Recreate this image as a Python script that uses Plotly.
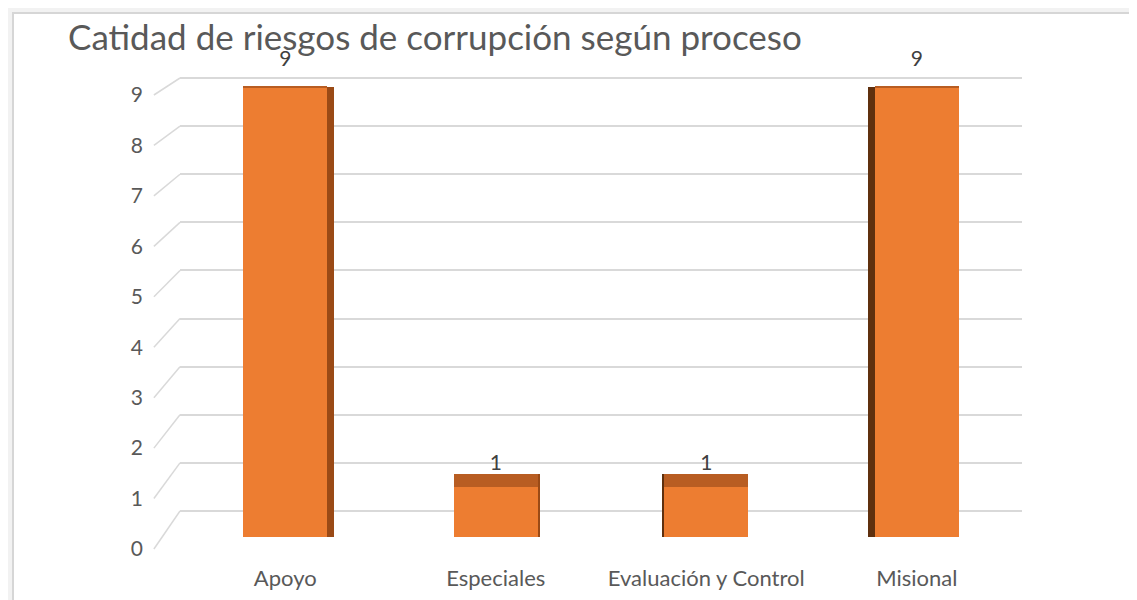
import plotly.graph_objects as go

categories = ['Apoyo', 'Especiales', 'Evaluación y Control', 'Misional']
counts = [9, 1, 1, 9]
y_ticks = list(range(0, 10))

FRONT = '#ED7D31'
TOP = '#B85D22'
SIDE_R = '#9A4A16'
SIDE_L = '#5F300E'
GRID = '#D9D9D9'
TEXT = '#595959'
FONT = 'Lato'

W, H = 1137, 600
# plot area in pixels
PL, PR = 172, 1014
PT, PB = 40, 555
NUDGE = -8  # measured shift between asked and drawn positions


def axis_range(zero_px, nine_px):
    zero_px += NUDGE
    nine_px += NUDGE
    unit = (zero_px - nine_px) / 9.0
    return [-(PB - zero_px) / unit, (zero_px - PT) / unit]


bar_range = axis_range(537, 88)    # front faces of the bars
grid_range = axis_range(511, 78)   # back wall grid
label_range = axis_range(549, 95)  # tick labels / data labels


def frac(v, r):
    return (v - r[0]) / (r[1] - r[0])


pos = list(range(len(categories)))
mid = (len(categories) - 1) / 2.0
bar_w = 0.40
# fake perspective: top face shrinks as the bar gets taller, side shows on outer bars
top_depth = [0.3 - 0.03 * v for v in counts]
side_w = [0.03 * abs(p - mid) / mid + 0.001 for p in pos]
side_off = [bar_w / 2 if p < mid else -bar_w / 2 - w for p, w in zip(pos, side_w)]
side_col = [SIDE_R if p < mid else SIDE_L for p in pos]

fig = go.Figure()
fig.add_trace(go.Scatter(x=[pos[0]], y=[0], mode='markers', marker_opacity=0,
                         yaxis='y2', hoverinfo='skip', showlegend=False))
fig.add_trace(go.Bar(x=pos, y=[v + d for v, d in zip(counts, top_depth)], base=0,
                     width=side_w, offset=side_off, marker_color=side_col,
                     marker_line_width=0, showlegend=False, hoverinfo='skip'))
fig.add_trace(go.Bar(x=pos, y=counts, width=bar_w, marker_color=FRONT,
                     marker_line_width=0, showlegend=False, name='Riesgos'))
fig.add_trace(go.Bar(x=pos, y=top_depth, base=counts, width=bar_w, marker_color=TOP,
                     marker_line_width=0, showlegend=False, hoverinfo='skip'))
fig.add_trace(go.Scatter(x=pos, y=[v + 0.68 for v in counts], mode='text',
                         text=[str(v) for v in counts], yaxis='y3', cliponaxis=False,
                         textfont=dict(family=FONT, size=21, color='#404040'),
                         showlegend=False, hoverinfo='skip'))

shapes = []
# chart frame
shapes.append(dict(type='rect', xref='paper', yref='paper', layer='below',
                   x0=(5 - PL) / (PR - PL), x1=(W + 10 - PL) / (PR - PL),
                   y0=-(H + 10 - PB) / (PB - PT), y1=(PB - 5) / (PB - PT),
                   fillcolor='white', line=dict(color='#D6D6D6', width=2)))
for v in y_ticks:
    shapes.append(dict(type='line', xref='paper', yref='paper',
                       x0=-0.031, y0=frac(v, label_range),
                       x1=0, y1=frac(v, grid_range),
                       line=dict(color=GRID, width=1.5)))

fig.update_layout(
    width=W, height=H,
    margin=dict(l=PL, r=W - PR, t=PT, b=H - PB),
    paper_bgcolor='#F2F2F2', plot_bgcolor='white',
    barmode='overlay', bargap=0,
    title=dict(text='Catidad de riesgos de corrupción según proceso',
               xref='container', x=60 / W, xanchor='left',
               yref='container', y=1 - 30 / H, yanchor='middle',
               font=dict(family=FONT, size=35, color=TEXT)),
    xaxis=dict(range=[-0.5, len(categories) - 0.5], tickvals=pos, ticktext=categories,
               showgrid=False, zeroline=False, showline=False, ticks='',
               tickfont=dict(family=FONT, size=22, color=TEXT)),
    yaxis=dict(range=bar_range, showgrid=False, zeroline=False,
               showticklabels=False, showline=False),
    yaxis2=dict(range=grid_range, overlaying='y', tickvals=y_ticks, showgrid=True,
                gridcolor=GRID, gridwidth=1.5, zeroline=False, showticklabels=False,
                showline=False),
    yaxis3=dict(range=label_range, overlaying='y', side='left', tickvals=y_ticks,
                showgrid=False, zeroline=False, showline=False, ticks='',
                ticklabelstandoff=36,
                tickfont=dict(family=FONT, size=21, color=TEXT)),
    shapes=shapes,
)

fig.write_html('out.html')
